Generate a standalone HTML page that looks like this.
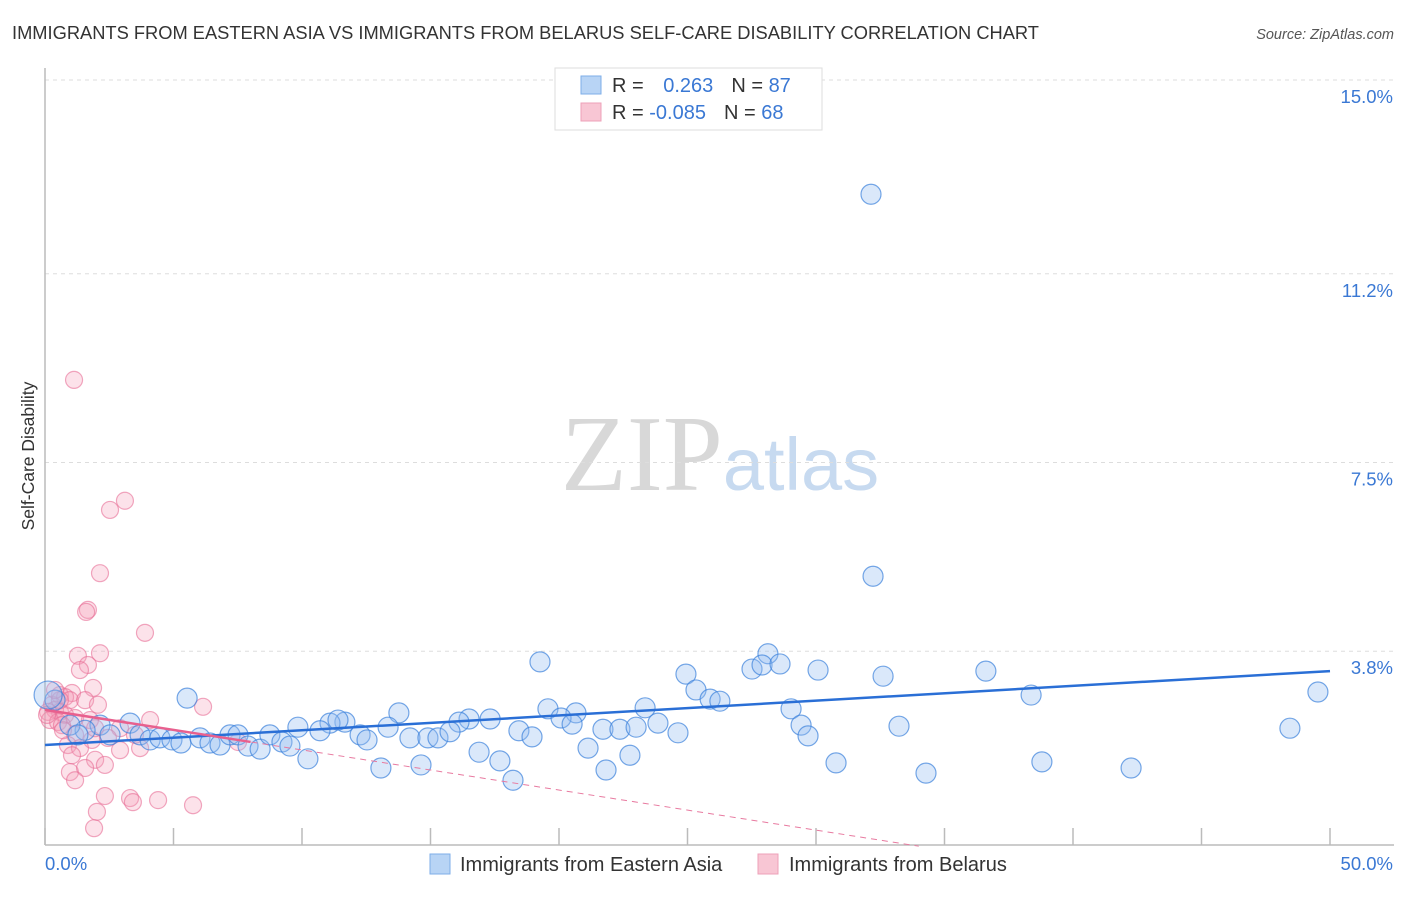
<!DOCTYPE html>
<html><head><meta charset="utf-8"><style>
body{margin:0;background:#fff;font-family:"Liberation Sans",sans-serif;}
svg text{font-family:"Liberation Sans",sans-serif;}
</style></head><body>
<svg id="chart" width="1406" height="892" xmlns="http://www.w3.org/2000/svg">
<text x="12" y="39" font-size="18.3" fill="#333">IMMIGRANTS FROM EASTERN ASIA VS IMMIGRANTS FROM BELARUS SELF-CARE DISABILITY CORRELATION CHART</text>
<text x="1394" y="39" font-size="14.5" fill="#555" text-anchor="end" font-style="italic">Source: ZipAtlas.com</text>
<text x="720" y="490" font-size="108" text-anchor="middle"><tspan font-family="Liberation Serif" fill="#d8d8d8">ZIP</tspan><tspan fill="#c7daf0" font-size="74">atlas</tspan></text>
<text transform="translate(34,456) rotate(-90)" font-size="17.5" fill="#333" text-anchor="middle">Self-Care Disability</text>
<g id="grid"></g><g id="pts"></g><g id="lines"></g>
<g>
<rect x="555" y="68" width="267" height="62" fill="#fff" stroke="#ddd"/>
<rect x="581" y="76" width="20" height="18" fill="#b8d4f5" stroke="#7eaee8"/>
<rect x="581" y="103" width="20" height="18" fill="#f8c6d4" stroke="#eea0b8"/>
<text x="612" y="92" font-size="20" fill="#333">R = <tspan fill="#3a78d4" dx="14">0.263</tspan><tspan dx="18" fill="#333">N = </tspan><tspan fill="#3a78d4">87</tspan></text>
<text x="612" y="119" font-size="20" fill="#333">R = <tspan fill="#3a78d4">-0.085</tspan><tspan dx="18" fill="#333">N = </tspan><tspan fill="#3a78d4">68</tspan></text>
</g>
<g>
<rect x="430" y="854" width="20" height="20" fill="#b8d4f5" stroke="#7eaee8"/>
<text x="460" y="871" font-size="20" fill="#333">Immigrants from Eastern Asia</text>
<rect x="758" y="854" width="20" height="20" fill="#f8c6d4" stroke="#eea0b8"/>
<text x="789" y="871" font-size="20" fill="#333">Immigrants from Belarus</text>
</g>
<text x="45" y="870" font-size="18.5" fill="#3a78d4">0.0%</text>
<text x="1393" y="870" font-size="18.5" fill="#3a78d4" text-anchor="end">50.0%</text>
</svg>
<script>
const yTicks=[3.8,7.5,11.2,15.0];
const xTickVals=[0,5,10,15,20,25,30,35,40,45,50];
const blueX=[32.14,32.22,19.26,28.13,27.51,27.90,28.60,30.08,36.61,24.94,32.61,25.33,25.88,26.26,38.37,49.53,5.53,23.35,29.03,19.57,20.66,13.77,16.50,17.32,16.11,11.67,11.09,11.40,9.84,13.35,20.08,21.71,22.37,23.00,23.85,20.51,29.42,33.23,48.44,18.44,18.95,24.63,29.69,12.26,12.53,14.20,14.90,15.29,15.76,3.31,2.14,1.56,2.53,3.70,4.09,4.47,4.94,5.29,6.03,6.42,6.81,7.20,7.51,7.90,8.37,8.75,9.22,9.53,10.70,21.13,16.89,17.70,10.23,14.63,13.07,18.21,21.83,22.76,30.78,34.28,38.79,42.26,0.39,0.97,1.28,0.12];
const blueY=[12.76,5.27,3.59,3.75,3.45,3.53,3.55,3.43,3.41,3.35,3.31,3.04,2.86,2.82,2.94,3.00,2.88,2.69,2.67,2.67,2.59,2.59,2.47,2.47,2.41,2.41,2.39,2.45,2.31,2.31,2.49,2.27,2.27,2.31,2.39,2.37,2.35,2.33,2.29,2.24,2.12,2.20,2.14,2.16,2.06,2.10,2.10,2.10,2.22,2.39,2.35,2.25,2.16,2.16,2.06,2.10,2.06,2.00,2.10,2.00,1.96,2.16,2.16,1.94,1.88,2.16,2.02,1.94,2.24,1.90,1.82,1.65,1.69,1.57,1.51,1.27,1.47,1.76,1.61,1.41,1.63,1.51,2.84,2.35,2.16,2.94];
const pinkX=[1.13,3.11,2.53,2.14,1.67,1.60,3.89,1.28,2.14,1.67,1.36,1.87,0.58,1.05,0.78,0.97,1.56,2.06,6.15,0.27,0.39,0.58,0.78,0.12,0.19,0.51,1.17,1.75,2.92,4.09,0.66,1.17,1.83,0.89,1.36,2.92,3.70,7.51,1.95,2.33,1.05,0.97,1.56,1.17,2.33,3.31,4.40,3.42,5.76,2.02,1.91,0.58,0.39,0.70,1.95,2.45,3.50,0.08];
const pinkY=[9.12,6.75,6.57,5.33,4.61,4.57,4.16,3.71,3.76,3.53,3.43,3.08,2.94,2.98,2.90,2.84,2.84,2.75,2.71,2.75,2.65,2.61,2.55,2.61,2.45,2.41,2.49,2.45,2.29,2.45,2.35,2.16,2.06,1.96,1.90,1.86,1.90,2.02,1.67,1.57,1.76,1.43,1.51,1.27,0.96,0.92,0.88,0.84,0.78,0.65,0.33,2.84,3.04,2.25,2.29,2.10,2.16,2.55];
const blueTrend=[1.96,3.41];
const pinkTrend=[2.65,-0.08];
const NS="http://www.w3.org/2000/svg";
const sx=v=>45+v*25.7, sy=v=>845-v*51;
function mk(t,a,p){const e=document.createElementNS(NS,t);for(const k in a)e.setAttribute(k,a[k]);document.getElementById(p).appendChild(e);return e;}
yTicks.forEach(t=>{
 const l=mk('line',{x1:45,x2:1394,y1:sy(t),y2:sy(t),stroke:'#ddd','stroke-dasharray':'4,4'},'grid');
 
 
 const tx=mk('text',{x:1393,y:sy(t)+23,'font-size':18.5,fill:'#3a78d4','text-anchor':'end'},'grid');
 tx.textContent=t.toFixed(1)+'%';
 
 
});
const ax=mk('line',{x1:45,x2:45,y1:68,y2:845,stroke:'#bbb','stroke-width':1.5},'grid');


const bx=mk('line',{x1:45,x2:1394,y1:845,y2:845,stroke:'#bbb','stroke-width':1.5},'grid');


xTickVals.forEach(t=>{
 const l=mk('line',{x1:sx(t),x2:sx(t),y1:828,y2:845,stroke:'#bbb','stroke-width':1.5},'grid');
 
 
});
pinkX.forEach((x,i)=>{
 const c=mk('circle',{cx:sx(x),cy:sy(pinkY[i]),r:8.5,fill:'rgba(244,160,185,0.3)',stroke:'rgba(232,110,150,0.6)','stroke-width':1.2},'pts');
 
 
});
blueX.forEach((x,i)=>{
 const big=i===blueX.length-1;
 const c=mk('circle',{cx:sx(x),cy:sy(blueY[i]),r:big?14:10,fill:'rgba(150,190,240,0.35)',stroke:'rgba(60,130,220,0.7)','stroke-width':1.2},'pts');
 
 
});
const bl=mk('line',{x1:sx(0),y1:sy(blueTrend[0]),x2:sx(50),y2:sy(blueTrend[1]),stroke:'#2a6fd6','stroke-width':2.5},'lines');


const slope=(pinkTrend[1]-pinkTrend[0])/50*1.44;
const pd=mk('line',{x1:sx(0),y1:sy(pinkTrend[0]),x2:sx(34),y2:sy(pinkTrend[0]+slope*34),stroke:'#e87aa0','stroke-width':1,'stroke-dasharray':'6,5'},'lines');


const ps=mk('line',{x1:sx(0),y1:sy(pinkTrend[0]),x2:sx(8),y2:sy(pinkTrend[0]+slope*8),stroke:'#e8608e','stroke-width':2.5},'lines');


</script>
</body></html>
